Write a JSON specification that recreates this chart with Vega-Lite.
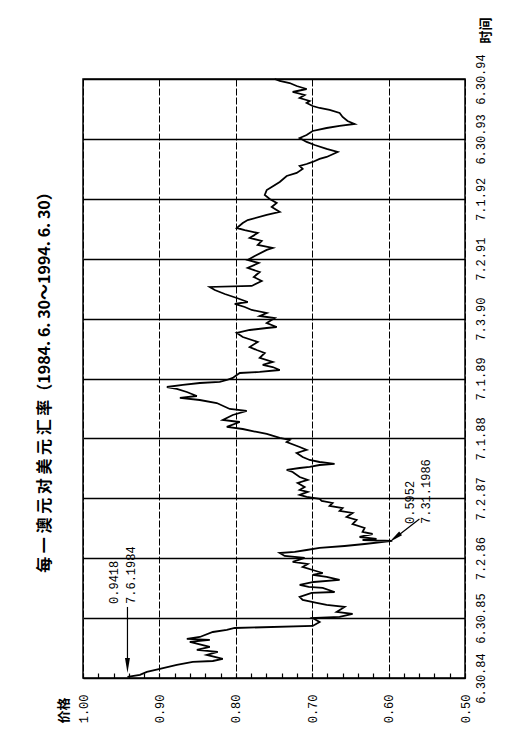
{
  "$schema": "https://vega.github.io/schema/vega-lite/v6.json",
  "width": 382,
  "height": 599,
  "autosize": "none",
  "padding": {"left": 83, "top": 79, "right": 66, "bottom": 69},
  "background": "white",
  "config": {"view": {"stroke": "black", "strokeWidth": 1.5}, "font": "Liberation Mono"},
  "title": {
    "text": "每 一 澳 元 对 美 元 汇 率（1984. 6. 30～1994. 6. 30）",
    "orient": "left",
    "anchor": "middle",
    "offset": 4,
    "font": "Noto Sans CJK SC",
    "fontSize": 16,
    "fontWeight": "bold",
    "color": "black"
  },
  "datasets": {
    "series": [
      {"t":1984.517,"p":0.9418},{"t":1984.551,"p":0.9255},{"t":1984.601,"p":0.9164},{"t":1984.651,"p":0.8994},
      {"t":1984.718,"p":0.8772},{"t":1984.768,"p":0.8563},{"t":1984.784,"p":0.8301},{"t":1984.818,"p":0.8170},
      {"t":1984.884,"p":0.8380},{"t":1984.935,"p":0.8236},{"t":1984.968,"p":0.8510},{"t":1985.018,"p":0.8340},
      {"t":1985.102,"p":0.8602},{"t":1985.135,"p":0.8340},{"t":1985.152,"p":0.8641},{"t":1985.185,"p":0.8471},
      {"t":1985.268,"p":0.8301},{"t":1985.302,"p":0.8118},{"t":1985.335,"p":0.8014},{"t":1985.369,"p":0.6994},
      {"t":1985.435,"p":0.6903},{"t":1985.502,"p":0.6994},
      {"t":1985.519,"p":0.6641},{"t":1985.569,"p":0.6471},{"t":1985.602,"p":0.6680},{"t":1985.686,"p":0.6576},
      {"t":1985.719,"p":0.6811},{"t":1985.753,"p":0.6942},{"t":1985.803,"p":0.7125},{"t":1985.853,"p":0.7164},
      {"t":1985.920,"p":0.7007},{"t":1985.936,"p":0.6707},{"t":1986.003,"p":0.6863},{"t":1986.020,"p":0.7046},
      {"t":1986.053,"p":0.7164},{"t":1986.103,"p":0.6981},{"t":1986.137,"p":0.6641},{"t":1986.187,"p":0.6811},
      {"t":1986.220,"p":0.6994},{"t":1986.253,"p":0.6863},{"t":1986.303,"p":0.6994},{"t":1986.354,"p":0.7125},
      {"t":1986.404,"p":0.7059},{"t":1986.437,"p":0.7256},{"t":1986.504,"p":0.7099},{"t":1986.537,"p":0.7360},
      {"t":1986.587,"p":0.7425},{"t":1986.604,"p":0.7229},{"t":1986.637,"p":0.7073},{"t":1986.671,"p":0.6903},
      {"t":1986.704,"p":0.6576},{"t":1986.737,"p":0.6314},{"t":1986.788,"p":0.5952},
      {"t":1986.804,"p":0.6341},{"t":1986.821,"p":0.6158},{"t":1986.854,"p":0.6380},{"t":1986.904,"p":0.6210},
      {"t":1986.938,"p":0.6341},{"t":1987.005,"p":0.6314},{"t":1987.071,"p":0.6471},{"t":1987.138,"p":0.6419},
      {"t":1987.188,"p":0.6550},{"t":1987.255,"p":0.6471},{"t":1987.288,"p":0.6641},{"t":1987.338,"p":0.6602},
      {"t":1987.372,"p":0.6772},{"t":1987.422,"p":0.6733},{"t":1987.455,"p":0.6876},{"t":1987.489,"p":0.6903},
      {"t":1987.522,"p":0.7073},{"t":1987.556,"p":0.7164},{"t":1987.606,"p":0.7059},{"t":1987.639,"p":0.7164},
      {"t":1987.689,"p":0.7099},{"t":1987.756,"p":0.7190},{"t":1987.806,"p":0.7059},{"t":1987.856,"p":0.7164},
      {"t":1987.939,"p":0.7256},{"t":1987.973,"p":0.7334},{"t":1988.006,"p":0.7164},{"t":1988.023,"p":0.7033},
      {"t":1988.056,"p":0.6903},{"t":1988.073,"p":0.6707},{"t":1988.106,"p":0.6903},{"t":1988.140,"p":0.7033},
      {"t":1988.190,"p":0.7125},{"t":1988.257,"p":0.7203},{"t":1988.307,"p":0.7073},{"t":1988.357,"p":0.7164},
      {"t":1988.440,"p":0.7334},{"t":1988.474,"p":0.7295},{"t":1988.507,"p":0.7425},
      {"t":1988.574,"p":0.7595},{"t":1988.607,"p":0.7726},{"t":1988.657,"p":0.7909},{"t":1988.691,"p":0.8118},
      {"t":1988.774,"p":0.7948},{"t":1988.808,"p":0.8170},{"t":1988.891,"p":0.8040},{"t":1988.958,"p":0.7857},
      {"t":1988.991,"p":0.8079},{"t":1989.091,"p":0.8249},{"t":1989.141,"p":0.8471},{"t":1989.175,"p":0.8732},
      {"t":1989.208,"p":0.8510},{"t":1989.275,"p":0.8641},{"t":1989.325,"p":0.8772},{"t":1989.358,"p":0.8902},
      {"t":1989.392,"p":0.8693},{"t":1989.425,"p":0.8471},{"t":1989.442,"p":0.8210},{"t":1989.475,"p":0.8118},
      {"t":1989.509,"p":0.8040},
      {"t":1989.559,"p":0.7987},{"t":1989.592,"p":0.7948},{"t":1989.609,"p":0.7687},{"t":1989.642,"p":0.7425},
      {"t":1989.692,"p":0.7517},{"t":1989.726,"p":0.7648},{"t":1989.776,"p":0.7517},{"t":1989.843,"p":0.7687},
      {"t":1989.926,"p":0.7621},{"t":1989.976,"p":0.7726},{"t":1990.026,"p":0.7818},{"t":1990.110,"p":0.7713},
      {"t":1990.193,"p":0.7909},{"t":1990.260,"p":0.7987},{"t":1990.310,"p":0.7818},{"t":1990.343,"p":0.7595},
      {"t":1990.360,"p":0.7465},{"t":1990.427,"p":0.7595},{"t":1990.510,"p":0.7491},
      {"t":1990.544,"p":0.7687},{"t":1990.594,"p":0.7595},{"t":1990.644,"p":0.7791},{"t":1990.694,"p":0.7883},
      {"t":1990.744,"p":0.8014},{"t":1990.777,"p":0.7844},{"t":1990.844,"p":0.7987},{"t":1990.911,"p":0.8144},
      {"t":1990.978,"p":0.8275},{"t":1991.028,"p":0.8340},{"t":1991.045,"p":0.7791},{"t":1991.128,"p":0.7661},
      {"t":1991.195,"p":0.7765},{"t":1991.278,"p":0.7687},{"t":1991.345,"p":0.7844},{"t":1991.429,"p":0.7700},
      {"t":1991.479,"p":0.7844},
      {"t":1991.545,"p":0.7752},{"t":1991.646,"p":0.7595},{"t":1991.679,"p":0.7517},{"t":1991.729,"p":0.7713},
      {"t":1991.796,"p":0.7661},{"t":1991.846,"p":0.7818},{"t":1991.929,"p":0.7713},{"t":1991.979,"p":0.7883},
      {"t":1992.013,"p":0.7987},{"t":1992.096,"p":0.7909},{"t":1992.146,"p":0.7844},{"t":1992.230,"p":0.7595},
      {"t":1992.280,"p":0.7425},{"t":1992.363,"p":0.7530},{"t":1992.430,"p":0.7465},{"t":1992.497,"p":0.7556},
      {"t":1992.564,"p":0.7621},{"t":1992.647,"p":0.7595},{"t":1992.697,"p":0.7530},{"t":1992.781,"p":0.7425},
      {"t":1992.881,"p":0.7334},{"t":1992.931,"p":0.7203},{"t":1992.998,"p":0.7125},{"t":1993.048,"p":0.7164},
      {"t":1993.081,"p":0.7073},{"t":1993.115,"p":0.6994},{"t":1993.165,"p":0.6903},{"t":1993.198,"p":0.6811},
      {"t":1993.282,"p":0.6667},{"t":1993.332,"p":0.6811},{"t":1993.398,"p":0.6968},{"t":1993.449,"p":0.7073},
      {"t":1993.515,"p":0.7164},
      {"t":1993.565,"p":0.7073},{"t":1993.632,"p":0.6994},{"t":1993.682,"p":0.6811},{"t":1993.716,"p":0.6641},
      {"t":1993.749,"p":0.6445},{"t":1993.799,"p":0.6537},{"t":1993.866,"p":0.6602},{"t":1993.933,"p":0.6641},
      {"t":1993.983,"p":0.6772},{"t":1994.016,"p":0.6903},{"t":1994.049,"p":0.6994},{"t":1994.100,"p":0.7073},
      {"t":1994.133,"p":0.7033},{"t":1994.183,"p":0.7164},{"t":1994.233,"p":0.7099},{"t":1994.283,"p":0.7256},
      {"t":1994.333,"p":0.7073},{"t":1994.383,"p":0.7203},{"t":1994.433,"p":0.7295},{"t":1994.467,"p":0.7425},
      {"t":1994.500,"p":0.7491}
    ],
    "arrows": [
      {"p":0.9418,"t":1985.686,"p2":0.9418,"t2":1984.801},
      {"p":0.5596,"t":1987.155,"p2":0.5883,"t2":1986.871}
    ],
    "headDown": [{"p":0.9418,"t":1984.709}],
    "headDiag": [{"p":0.5916,"t":1986.843}],
    "labels": [
      {"p":0.9595,"t":1985.736,"label":"0.9418"},
      {"p":0.9373,"t":1985.736,"label":"7.6.1984"},
      {"p":0.5726,"t":1987.071,"label":"0.5952"},
      {"p":0.5504,"t":1987.071,"label":"7.31.1986"}
    ]
  },
  "encoding": {
    "x": {
      "field": "p",
      "type": "quantitative",
      "scale": {"domain": [0.5, 1.0], "reverse": true, "nice": false, "zero": false},
      "axis": {
        "title": "价格",
        "orient": "bottom",
        "values": [1.0,0.98,0.96,0.94,0.92,0.9,0.88,0.86,0.84,0.82,0.8,0.78,0.76,0.74,0.72,0.7,0.68,0.66,0.64,0.62,0.6,0.58,0.56,0.54,0.52,0.5],
        "labelExpr": "round(datum.value*100) % 10 == 0 ? format(datum.value, '.2f') : ''",
        "labelAngle": -90,
        "labelAlign": "right",
        "labelBaseline": "middle",
        "labelFont": "Liberation Mono",
        "labelFontSize": 12,
        "labelColor": "black",
        "labelPadding": 21,
        "labelFlush": false,
        "labelOverlap": false,
        "labelBound": false,
        "tickSize": -5,
        "tickColor": "black",
        "tickWidth": 1.2,
        "domain": false,
        "grid": true,
        "gridColor": "black",
        "gridDash": [7, 2],
        "gridWidth": 1,
        "gridOpacity": {"condition": {"test": "round(datum.value*100) % 10 == 0", "value": 1}, "value": 0},
        "titleAngle": -90,
        "titleX": -20,
        "titleY": 32,
        "titleAlign": "center",
        "titleBaseline": "middle",
        "titleFont": "Noto Sans CJK SC",
        "titleFontSize": 13,
        "titleFontWeight": "bold",
        "titleColor": "black"
      }
    },
    "y": {
      "field": "t",
      "type": "quantitative",
      "scale": {"domain": [1984.5, 1994.5], "nice": false, "zero": false},
      "axis": {
        "title": "时间",
        "orient": "right",
        "values": [1984.5,1985.5,1986.5,1987.5,1988.5,1989.5,1990.5,1991.5,1992.5,1993.5,1994.5],
        "labelExpr": "['6.30.84','6.30.85','7.2.86','7.2.87','7.1.88','7.1.89','7.3.90','7.2.91','7.1.92','6.30.93','6.30.94'][round(datum.value - 1984.5)]",
        "labelAngle": -90,
        "labelAlign": "center",
        "labelBaseline": "top",
        "labelFont": "Liberation Mono",
        "labelFontSize": 12,
        "labelColor": "black",
        "labelPadding": 10,
        "labelFlush": false,
        "labelOverlap": false,
        "labelBound": false,
        "ticks": false,
        "domain": false,
        "grid": true,
        "gridColor": "black",
        "gridWidth": 1.3,
        "titleAngle": -90,
        "titleX": 20,
        "titleY": -49,
        "titleAlign": "center",
        "titleBaseline": "middle",
        "titleFont": "Noto Sans CJK SC",
        "titleFontSize": 13,
        "titleFontWeight": "bold",
        "titleColor": "black"
      }
    }
  },
  "layer": [
    {
      "data": {"name": "series"},
      "mark": {"type": "line", "color": "black", "strokeWidth": 1.8, "strokeJoin": "miter"},
      "encoding": {"order": {"field": "t", "type": "quantitative"}}
    },
    {
      "data": {"name": "arrows"},
      "mark": {"type": "rule", "color": "black", "strokeWidth": 1.2},
      "encoding": {"x2": {"field": "p2"}, "y2": {"field": "t2"}}
    },
    {
      "data": {"name": "headDown"},
      "mark": {"type": "point", "shape": "M-0.33,-1L0.33,-1L0,1Z", "filled": true, "color": "black", "opacity": 1, "size": 225}
    },
    {
      "data": {"name": "headDiag"},
      "mark": {"type": "point", "shape": "M-0.33,-1L0.33,-1L0,1Z", "filled": true, "color": "black", "opacity": 1, "size": 200, "angle": 52}
    },
    {
      "data": {"name": "labels"},
      "mark": {"type": "text", "angle": 270, "align": "left", "baseline": "middle", "font": "Liberation Mono", "fontSize": 12, "color": "black"},
      "encoding": {"text": {"field": "label"}}
    }
  ]
}
